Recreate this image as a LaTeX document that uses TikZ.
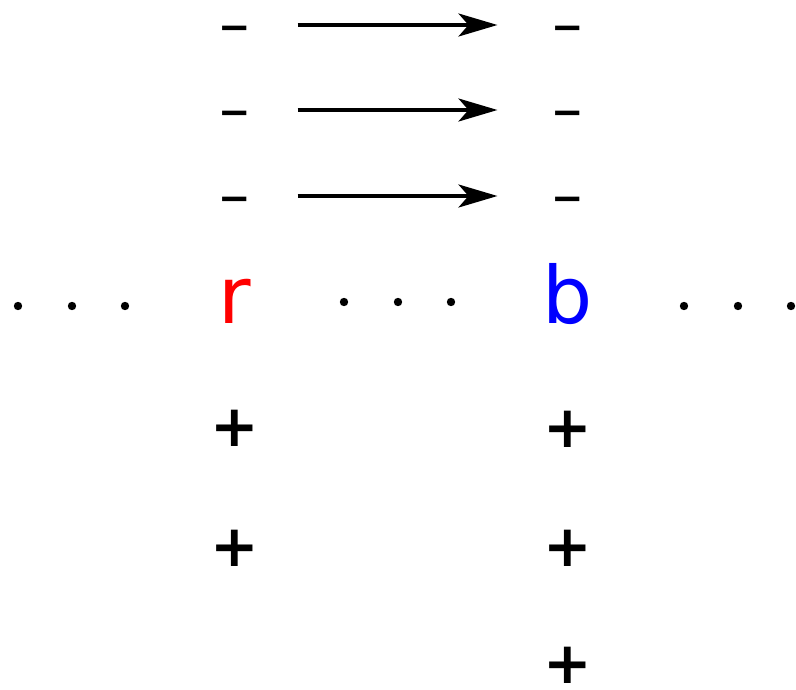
\documentclass[tikz,border=0pt]{standalone}
\usepackage{fontspec}
\setmainfont{DejaVu Sans}
\usetikzlibrary{arrows.meta}

\begin{document}
\begin{tikzpicture}[x=0.02cm,y=-0.02cm,
  minus/.style={inner sep=0pt,text height=17.6pt,text depth=0pt,
    font=\bfseries\fontsize{22}{26}\selectfont},
  plus/.style={inner sep=0pt,font=\bfseries\fontsize{33}{40}\selectfont},
  charge/.style={inner sep=0pt,anchor=base,font=\fontsize{45}{50}\selectfont},
  flow/.style={line width=2pt,-{Stealth[length=0.78cm,width=0.46cm,inset=0.2cm]},
    shorten <=0.92cm,shorten >=1.08cm}]
\useasboundingbox (0,0) rectangle (796,690);

\node[minus] (ml1) at (235,25) {−};
\node[minus] (ml2) at (235,110) {−};
\node[minus] (ml3) at (235,196) {−};
\node[minus] (mr1) at (568,25) {−};
\node[minus] (mr2) at (568,110) {−};
\node[minus] (mr3) at (568,196) {−};

\draw[flow] (ml1) -- (mr1);
\draw[flow] (ml2) -- (mr2);
\draw[flow] (ml3) -- (mr3);

\node[charge,text=red] (r) at (235,323) {r};
\node[charge,text=blue] (b) at (568,323) {b};

\fill (18,306) circle (4.2);
\fill (72,306) circle (4.2);
\fill (125,306) circle (4.2);
\fill (344,302) circle (4.2);
\fill (398,302) circle (4.2);
\fill (451,302) circle (4.2);
\fill (684,306) circle (4.2);
\fill (738,306) circle (4.2);
\fill (791,306) circle (4.2);

\node[plus] (pl1) at (235,428) {+};
\node[plus] (pl2) at (235,548) {+};
\node[plus] (pr1) at (568,429) {+};
\node[plus] (pr2) at (568,548) {+};
\node[plus] (pr3) at (568,665) {+};
\end{tikzpicture}
\end{document}
